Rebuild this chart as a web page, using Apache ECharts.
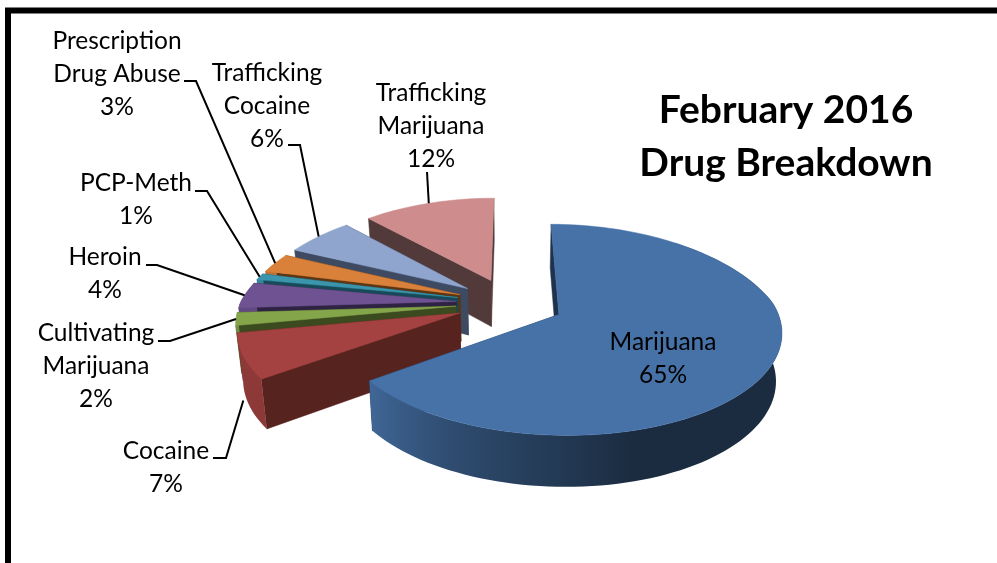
<!DOCTYPE html>
<html><head><meta charset="utf-8">
<style>html,body{margin:0;padding:0;background:#fff}#c{width:997px;height:563px}</style>
<script src="https://cdn.jsdelivr.net/npm/echarts@6/dist/echarts.min.js"></script>
</head><body><div id="c"></div>
<script>
const categories = ['Marijuana','Cocaine','Cultivating\nMarijuana','Heroin','PCP-Meth','Prescription\nDrug Abuse','Trafficking\nCocaine','Trafficking\nMarijuana'];
const values = [65,7,2,4,1,3,6,12];
const titleLines = ['February 2016','Drug Breakdown'];

// styles
const topColors = ['#4672a8','#a34241','#84a54a','#6f5292','#3a95ad','#d9813a','#8fa5cd','#ce8c8c'];
const cutColors = ['#1f324d','#56231f','#3c4a1f','#2e2342','#174a58','#5e3511','#3d4a62','#533a3a'];
const wallBase  = ['#4a78b0','#a34241','#84a54a','#6f5292','#3a95ad','#d9813a','#8fa5cd','#ce8c8c'];

// projection of the tilted pie
const P = {cx:510, cy:303, R:216, Rk:100, persp:0.1427, backPersp:0.05, explode:0.25, depth:47, depthV:-4, bottomScale:0.978};
// label layout: centre x, first line y, leader start/elbow, leader drop below the slice rim
const labelLayout = [
  {x:663,y:342},
  {x:166,y:451,a:[213,458],b:[226,458],drop:44},
  {x:96,y:333,a:[158,341],b:[170,341],drop:0},
  {x:105,y:257,a:[146,265],b:[157,265],drop:0},
  {x:136,y:183,a:[195,191],b:[207,191],drop:0},
  {x:117,y:41,a:[184,81],b:[196,81],drop:0},
  {x:267,y:73,a:[288,145],b:[300,145],drop:0},
  {x:431,y:93,a:[427,172],b:[427,172],drop:0}
];

const total = values.reduce((a,b)=>a+b,0);
const rad = d=>d*Math.PI/180;
const slices = []; let acc = 0;
values.forEach((v,i)=>{const s=acc/total*360; acc+=v; slices.push({i,start:s,end:acc/total*360,mid:(s+acc/total*360)/2});});

function proj(u,v){const w=1+P.persp*v, wx=w+P.backPersp*Math.max(v,0);return [P.cx+P.R*u/wx,P.cy-P.Rk*v/w];}
function plane(sl,deg,r){const m=rad(sl.mid),t=rad(deg);
  return [P.explode*Math.sin(m)+r*Math.sin(t),P.explode*Math.cos(m)+r*Math.cos(t)];}
function topPt(sl,deg,r){const q=plane(sl,deg,r);return proj(q[0],q[1]);}
function botPt(sl,deg,r){const q=plane(sl,deg,r),p=proj(q[0],q[1]);
  return [P.cx+(p[0]-P.cx)*P.bottomScale,p[1]+P.depth+P.depthV*q[1]];}
function shade(hex,f){const n=parseInt(hex.slice(1),16);
  const c=[(n>>16)&255,(n>>8)&255,n&255].map(x=>Math.round(x*f));return 'rgb('+c.join(',')+')';}
function wallShade(deg){ // front-left walls are light, right-hand walls go dark
  const stops=[[165,.37],[205,.62],[234,.86],[300,.9]];
  if(deg<=stops[0][0])return stops[0][1];
  for(let k=1;k<stops.length;k++){if(deg<=stops[k][0]){const a=stops[k-1],b=stops[k];
    return a[1]+(b[1]-a[1])*(deg-a[0])/(b[0]-a[0]);}}
  return .9;
}
function arc(sl,a,b,fn){const out=[],n=Math.max(2,Math.ceil((b-a)/2));
  for(let k=0;k<=n;k++)out.push(fn(sl,a+(b-a)*k/n,1));return out;}

function renderSlice(params,api){
  const sl=slices[api.value(0)], i=sl.i, ch=[];
  const apexT=topPt(sl,sl.mid,0), apexB=botPt(sl,sl.mid,0);
  [sl.start,sl.end].forEach(d=>{
    ch.push({type:'polygon',shape:{points:[apexT,topPt(sl,d,1),botPt(sl,d,1),apexB]},
      style:{fill:cutColors[i],stroke:cutColors[i],lineWidth:.5}});
  });
  const a=Math.max(sl.start,40), b=Math.min(sl.end,290);
  if(b>a){
    const t=arc(sl,a,b,topPt), bo=arc(sl,a,b,botPt);
    const pts=t.concat(bo.slice().reverse());
    const xs=pts.map(p=>p[0]); const x0=Math.min(...xs), x1=Math.max(...xs);
    // colour stops follow x on the part of the rim that runs leftwards only
    const stops=[];
    [165,180,195,205,220,234,250,265,290].forEach(d=>{
      if(d<=a||d>=b)return;
      const p=topPt(sl,d,1);
      stops.push({offset:(p[0]-x0)/(x1-x0),color:shade(wallBase[i],wallShade(d))});
    });
    [a,b].forEach(d=>{const p=topPt(sl,d,1);
      stops.push({offset:d===a&&a<=165?1:Math.min(1,Math.max(0,(p[0]-x0)/(x1-x0))),color:shade(wallBase[i],wallShade(d))});});
    stops.sort((p,q)=>p.offset-q.offset);
    ch.push({type:'polygon',shape:{points:pts},
      style:{fill:new echarts.graphic.LinearGradient(x0,0,x1,0,stops,true)}});
  }
  const top=[apexT].concat(arc(sl,sl.start,sl.end,topPt));
  ch.push({type:'polygon',shape:{points:top},style:{fill:topColors[i],stroke:topColors[i],lineWidth:.5}});
  return {type:'group',children:ch};
}

function renderLabel(params,api){
  const sl=slices[api.value(0)], i=sl.i, L=labelLayout[i], ch=[];
  const lines=(categories[i]+'\n'+values[i]+'%').split('\n');
  lines.forEach((s,k)=>ch.push({type:'text',style:{text:s,x:L.x,y:L.y+k*33,align:'center',verticalAlign:'middle',
    font:'24.5px Lato, "Open Sans", sans-serif',fill:'#000'}}));
  if(L.a){
    const rim=topPt(sl,sl.mid,1);
    ch.push({type:'polyline',shape:{points:[L.a,L.b,[rim[0],rim[1]+L.drop]]},style:{fill:'none',stroke:'#000',lineWidth:2}});
  }
  return {type:'group',children:ch};
}

const drawOrder = values.map((v,i)=>[i]).reverse();
const chart = echarts.init(document.getElementById('c'),null,{renderer:'canvas',width:997,height:563});
chart.setOption({
  animation:false,backgroundColor:'#fff',
  title:{text:titleLines.join('\n'),left:781,top:79,textAlign:'center',
    textStyle:{fontFamily:'Lato, "Open Sans", sans-serif',fontWeight:'bold',fontSize:39,lineHeight:53,color:'#000'}},
  graphic:[{type:'rect',shape:{x:8,y:10.5,width:1200,height:1000},style:{fill:'none',stroke:'#000',lineWidth:6},z:0}],
  series:[
    {type:'custom',coordinateSystem:'none',renderItem:renderSlice,data:drawOrder,silent:true,z:2},
    {type:'custom',coordinateSystem:'none',renderItem:renderLabel,data:values.map((v,i)=>[i]),silent:true,z:3}
  ]
});
</script></body></html>
